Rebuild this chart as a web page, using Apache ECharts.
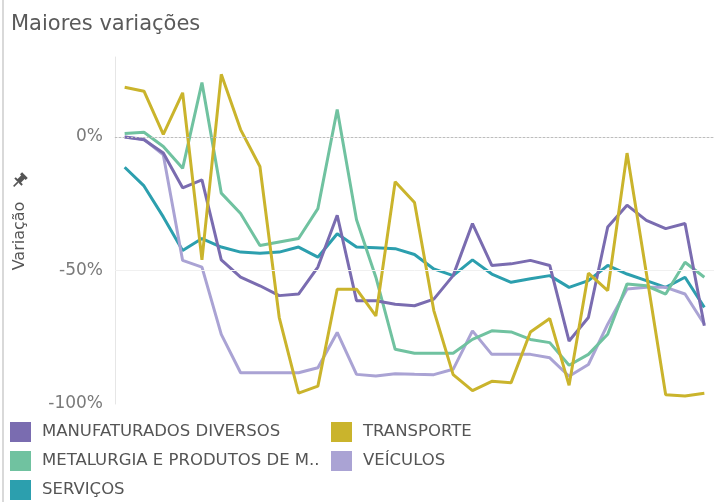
<!DOCTYPE html>
<html>
<head>
<meta charset="utf-8">
<script src="https://cdn.jsdelivr.net/npm/echarts@6/dist/echarts.min.js"></script>
<style>
  html, body { margin: 0; padding: 0; background: #fff; }
  #chart { width: 714px; height: 502px; }
</style>
</head>
<body>
<div id="chart"></div>
<script>
// periodos (eixo x sem rótulos)
const periodos = ['1', '2', '3', '4', '5', '6', '7', '8', '9', '10', '11', '12', '13', '14', '15', '16',
  '17', '18', '19', '20', '21', '22', '23', '24', '25', '26', '27', '28', '29', '30', '31'];

const manufaturados = [0, -1, -6, -19, -16, -46, -52.5, -55.7, -59.4, -58.8, -48.7, -29.3, -61.3, -61.3, -62.6, -63.2,
  -60.7, -51.9, -32.4, -48.1, -47.5, -46.2, -48.1, -76.4, -67.6, -33.7, -25.5, -31.2, -34.3, -32.4, -70.7];
const transporte = [18.7, 17.2, 1, 16.6, -46, 23.5, 2.8, -11, -67.6, -95.9, -93.3, -57, -57, -67, -16.7, -24.5,
  -65, -89, -95, -91.5, -92, -73, -68, -93, -51, -57.5, -6, -51, -96.5, -97, -96];
const metalurgia = [1.3, 1.8, -3.5, -11.7, 20.4, -21, -28.6, -40.6, -39.3, -38, -26.8, 10.3, -31, -52.5, -79.5, -81,
  -81, -81, -75.8, -72.6, -73, -75.8, -77, -85.5, -81.4, -73.9, -55, -55.7, -58.8, -46.9, -52.5];
const veiculos = [0, -0.8, -6.7, -46.2, -48.7, -73.9, -88.3, -88.3, -88.3, -88.3, -86.4, -73.2, -88.9, -89.5, -88.7, -88.9,
  -89, -87, -72.6, -81.4, -81.4, -81.4, -82.7, -89.6, -85.2, -70.1, -56.9, -56.3, -56.3, -58.8, -70.1];
const servicos = [-11.3, -18.3, -29.9, -42.5, -38, -41.2, -43.1, -43.5, -43.1, -41.2, -45, -36.2, -41.2, -41.5, -41.8, -44,
  -49.4, -51.9, -46, -51.3, -54.4, -53.1, -51.9, -56.3, -53.8, -48.1, -51.3, -53.8, -56.3, -52.5, -63.8];

const yTicks = [-100, -50, 0];

const nomes = {
  manu: 'MANUFATURADOS DIVERSOS',
  transp: 'TRANSPORTE',
  metal: 'METALURGIA E PRODUTOS DE METAL',
  veic: 'VEÍCULOS',
  serv: 'SERVIÇOS'
};
const cores = {
  manu: '#7a6cb0',
  transp: '#cab42c',
  metal: '#70c2a0',
  veic: '#aaa3d4',
  serv: '#2c9fae'
};

const fonte = 'DejaVu Sans';

const chart = echarts.init(document.getElementById('chart'));

const mkLine = (key, data, extra) => Object.assign({
  name: nomes[key],
  type: 'line',
  data,
  symbol: 'none',
  smooth: false,
  lineStyle: { width: 3, color: cores[key] },
  itemStyle: { color: cores[key] }
}, extra || {});

const legendBase = {
  orient: 'vertical',
  icon: 'rect',
  itemWidth: 21,
  itemHeight: 20,
  itemGap: 9,
  padding: 0,
  top: 422,
  textStyle: {
    fontFamily: fonte,
    fontSize: 16.5,
    color: '#555',
    padding: [0, 0, 0, 6]
  },
  formatter: (n) => n === nomes.metal ? 'METALURGIA E PRODUTOS DE M..' : n
};

const option = {
  animation: false,
  title: {
    text: 'Maiores variações',
    left: 11,
    top: 14,
    padding: 0,
    textStyle: { fontFamily: fonte, fontSize: 21, fontWeight: 'normal', color: '#5a5a5a' }
  },
  legend: [
    Object.assign({}, legendBase, { left: 10, data: [nomes.manu, nomes.metal, nomes.serv] }),
    Object.assign({}, legendBase, { left: 331, data: [nomes.transp, nomes.veic] })
  ],
  grid: { left: 115, right: -3, top: 57, bottom: 98 },
  xAxis: {
    type: 'category',
    data: periodos,
    boundaryGap: true,
    axisLine: { show: true, lineStyle: { color: '#e6e6e6', width: 1 } },
    axisTick: { show: false },
    axisLabel: { show: false },
    splitLine: { show: false }
  },
  yAxis: {
    type: 'value',
    min: -100,
    max: 30,
    interval: 50,
    axisLine: { show: true, lineStyle: { color: '#e6e6e6' } },
    axisTick: { show: false },
    splitLine: { show: false },
    axisLabel: {
      margin: 12,
      fontFamily: fonte,
      fontSize: 17,
      color: '#7a7a7a',
      formatter: (v) => yTicks.includes(v) ? v + '%' : ''
    }
  },
  graphic: [
    { type: 'line', shape: { x1: 3, y1: 0, x2: 3, y2: 502 }, style: { stroke: '#d9d9d9', lineWidth: 2 } },
    {
      type: 'text', x: 20, y: 236, rotation: Math.PI / 2,
      style: { text: 'Variação', fontFamily: fonte, fontSize: 16, fill: '#555', align: 'center', verticalAlign: 'middle' }
    },
    {
      type: 'group', x: 20, y: 180, rotation: -Math.PI / 4,
      children: [
        { type: 'rect', shape: { x: -4, y: -7, width: 8, height: 3 }, style: { fill: '#555' } },
        { type: 'rect', shape: { x: -2.5, y: -5, width: 5, height: 7 }, style: { fill: '#555' } },
        { type: 'rect', shape: { x: -5, y: 1, width: 10, height: 2 }, style: { fill: '#555' } },
        { type: 'line', shape: { x1: 0, y1: 3, x2: 0, y2: 9 }, style: { stroke: '#555', lineWidth: 1.5 } }
      ]
    }
  ],
  series: [
    mkLine('serv', servicos, {
      markLine: {
        silent: true,
        symbol: 'none',
        label: { show: false },
        data: [
          { yAxis: 0, lineStyle: { color: '#bdbdbd', type: [2, 2], width: 1 } },
          { yAxis: -50, lineStyle: { color: '#f0f0f0', type: 'solid', width: 1 } }
        ]
      },
      z: 1
    }),
    mkLine('veic', veiculos),
    mkLine('metal', metalurgia),
    mkLine('manu', manufaturados),
    mkLine('transp', transporte)
  ]
};

chart.setOption(option);
</script>
</body>
</html>
